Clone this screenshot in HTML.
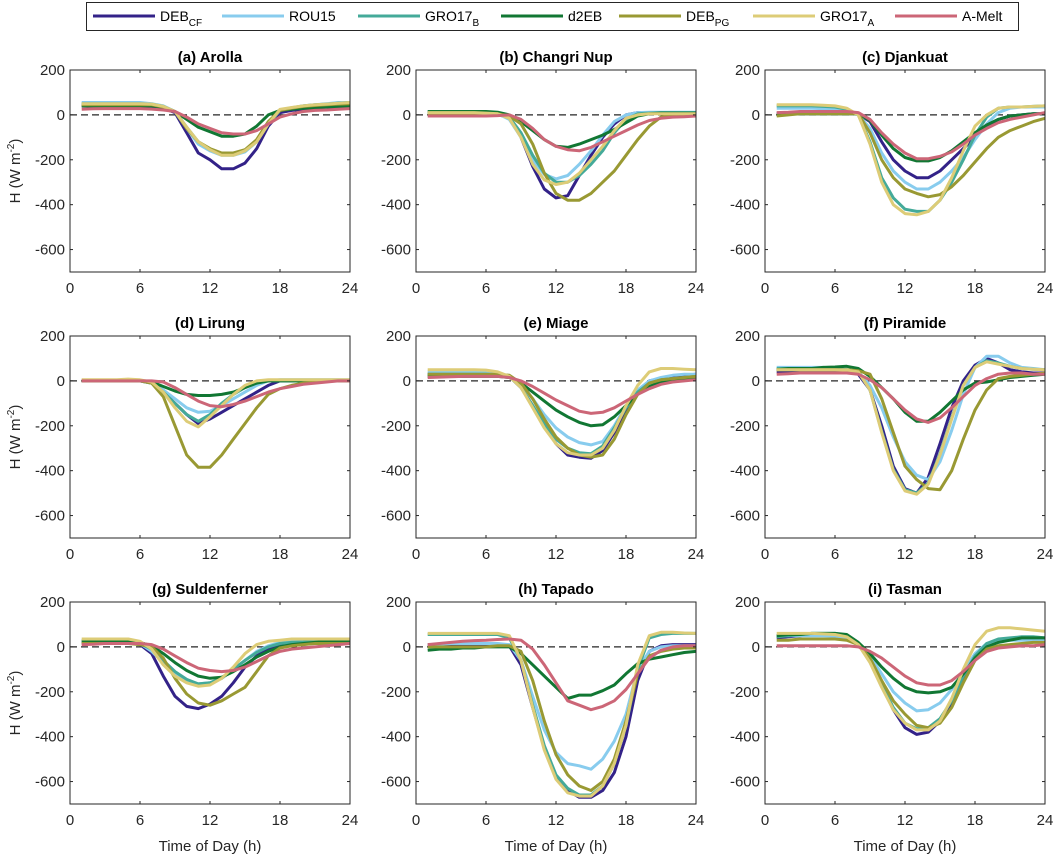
<!DOCTYPE html>
<html><head><meta charset="utf-8">
<style>
body{margin:0;background:#fff;}
svg{display:block;font-family:"Liberation Sans",Arial,sans-serif;}
</style></head>
<body>
<svg id="chart" width="1056" height="856" viewBox="0 0 1056 856" xmlns="http://www.w3.org/2000/svg"></svg>
<script>
const hours = [1,2,3,4,5,6,7,8,9,10,11,12,13,14,15,16,17,18,19,20,21,22,23,24];
const seriesNames = ["DEB_CF","ROU15","GRO17_B","d2EB","DEB_PG","GRO17_A","A-Melt"];
const seriesColors = ["#332288","#88ccee","#44aa99","#117733","#999933","#ddcc77","#cc6677"];
const panelTitles = ["(a) Arolla","(b) Changri Nup","(c) Djankuat","(d) Lirung","(e) Miage","(f) Piramide","(g) Suldenferner","(h) Tapado","(i) Tasman"];
const xTicks = [0,6,12,18,24];
const yTicks = [200,0,-200,-400,-600];

const arollaDEBCF=[40,40,40,40,40,40,38,30,10,-80,-170,-200,-240,-240,-215,-150,-50,10,20,25,30,35,35,35];
const arollaROU15=[55,55,55,55,55,55,50,40,15,-60,-130,-160,-180,-180,-165,-120,-40,20,30,40,45,50,55,55];
const arollaGRO17B=[50,50,50,50,50,50,48,38,15,-55,-120,-155,-175,-178,-160,-118,-40,22,32,40,45,48,52,55];
const arollaD2EB=[40,40,40,40,40,40,40,35,15,-20,-55,-75,-95,-95,-85,-50,0,20,25,30,32,35,38,40];
const arollaDEBPG=[45,45,45,45,45,45,45,35,15,-60,-120,-150,-170,-170,-155,-110,-30,20,30,38,42,45,48,50];
const arollaGRO17A=[50,50,50,50,50,50,48,38,15,-55,-120,-155,-180,-180,-160,-120,-40,25,33,40,45,48,52,55];
const arollaAMelt=[25,27,28,28,28,28,26,22,15,-10,-40,-60,-80,-85,-85,-70,-40,-10,5,15,20,22,25,28];

const changriDEBCF=[5,5,5,5,5,3,0,-10,-100,-230,-330,-370,-360,-270,-180,-100,-40,0,10,10,10,10,10,10];
const changriROU15=[15,15,15,15,12,10,5,-20,-100,-200,-265,-285,-270,-220,-160,-90,-30,0,10,12,12,12,12,12];
const changriGRO17B=[10,10,10,10,10,10,5,-10,-80,-180,-260,-300,-300,-270,-220,-160,-80,-20,5,8,10,10,10,10];
const changriD2EB=[15,15,15,15,15,15,12,0,-30,-70,-110,-140,-145,-130,-110,-90,-65,-35,-5,5,8,8,8,8];
const changriDEBPG=[5,5,5,5,5,5,5,-5,-40,-130,-260,-350,-380,-380,-350,-300,-250,-180,-110,-50,-10,0,0,0];
const changriGRO17A=[10,10,10,10,10,8,5,-15,-100,-220,-290,-310,-300,-260,-200,-140,-70,-15,0,5,5,5,5,5];
const changriAMelt=[-5,-5,-5,-5,-5,-5,-3,0,-20,-60,-110,-140,-155,-160,-145,-120,-95,-70,-45,-25,-15,-10,-8,-5];

const djankuatDEBCF=[5,5,5,5,5,5,5,5,-30,-120,-200,-250,-280,-280,-250,-200,-150,-100,-50,-20,-5,0,5,5];
const djankuatROU15=[30,30,30,30,28,25,15,0,-60,-170,-250,-300,-330,-330,-300,-250,-190,-110,-40,10,30,35,35,35];
const djankuatGRO17B=[40,40,40,40,38,35,25,0,-120,-280,-370,-420,-430,-430,-380,-300,-200,-90,-10,30,35,35,38,40];
const djankuatD2EB=[0,5,5,5,5,5,5,5,-25,-90,-150,-190,-205,-205,-190,-160,-120,-80,-45,-20,-5,0,5,5];
const djankuatDEBPG=[-5,0,5,5,5,5,5,5,-80,-200,-280,-330,-350,-365,-355,-320,-270,-210,-150,-100,-70,-50,-30,-15];
const djankuatGRO17A=[45,45,45,45,43,40,30,0,-130,-300,-400,-440,-445,-430,-380,-280,-160,-50,0,30,35,35,38,40];
const djankuatAMelt=[10,12,15,15,15,15,15,10,-20,-80,-130,-170,-195,-195,-185,-165,-130,-90,-60,-35,-20,-10,0,10];

const lirungDEBCF=[0,0,0,0,0,0,-10,-50,-100,-150,-190,-170,-140,-110,-80,-50,-20,0,0,0,0,0,0,0];
const lirungROU15=[0,0,0,0,0,0,-10,-40,-80,-120,-140,-135,-110,-80,-50,-20,0,5,5,5,5,5,5,5];
const lirungGRO17B=[0,0,0,0,0,0,-10,-50,-100,-150,-180,-150,-100,-60,-30,-5,0,0,0,0,0,0,0,0];
const lirungD2EB=[0,0,0,0,0,0,-5,-25,-45,-60,-65,-65,-60,-50,-30,-10,0,0,0,0,0,0,0,0];
const lirungDEBPG=[0,0,0,0,0,0,-10,-70,-200,-330,-385,-385,-330,-260,-190,-120,-60,-35,-20,-10,-5,0,0,0];
const lirungGRO17A=[5,5,5,5,8,5,-5,-50,-120,-180,-205,-160,-110,-60,-20,0,5,5,5,5,5,5,5,5];
const lirungAMelt=[0,0,0,0,0,0,0,-5,-30,-60,-90,-110,-115,-105,-90,-70,-50,-35,-25,-15,-10,-5,0,0];

const miageDEBCF=[30,30,30,30,30,30,28,20,-30,-110,-200,-280,-330,-340,-345,-310,-230,-130,-50,0,10,20,25,30];
const miageROU15=[40,40,40,40,40,35,30,20,-20,-80,-150,-210,-250,-275,-285,-270,-200,-110,-40,0,15,25,30,30];
const miageGRO17B=[30,30,30,30,30,30,25,20,-30,-110,-190,-260,-300,-320,-325,-290,-210,-120,-50,-10,5,10,15,20];
const miageD2EB=[20,20,20,20,20,20,20,15,-10,-50,-90,-130,-160,-185,-200,-195,-160,-110,-60,-25,-5,5,10,15];
const miageDEBPG=[30,30,30,30,30,30,30,25,-10,-80,-170,-250,-300,-330,-340,-330,-260,-150,-60,-10,5,10,15,20];
const miageGRO17A=[50,50,50,50,50,48,40,20,-30,-120,-210,-280,-320,-330,-330,-300,-220,-110,-20,40,55,55,52,50];
const miageAMelt=[15,17,18,20,20,20,20,15,0,-25,-55,-85,-110,-135,-145,-140,-120,-90,-60,-35,-15,-5,0,5];

const piramideDEBCF=[40,40,40,40,40,40,40,30,-40,-200,-380,-480,-500,-430,-280,-120,0,70,100,80,50,40,35,35];
const piramideROU15=[60,60,60,60,60,55,50,40,-20,-120,-250,-360,-420,-440,-360,-220,-60,60,110,110,80,60,55,50];
const piramideGRO17B=[55,55,55,55,55,52,48,40,-40,-225,-395,-485,-500,-455,-325,-165,-20,60,90,80,65,55,52,50];
const piramideD2EB=[50,55,55,55,60,62,65,55,20,-30,-80,-140,-180,-180,-140,-90,-40,-10,-5,5,15,20,25,30];
const piramideDEBPG=[50,50,50,50,50,50,50,45,30,-80,-230,-380,-440,-480,-485,-400,-260,-130,-40,10,20,25,30,35];
const piramideGRO17A=[50,50,50,50,50,50,48,40,-40,-230,-400,-490,-505,-460,-330,-170,-20,60,85,75,65,55,52,50];
const piramideAMelt=[30,32,35,35,35,35,35,30,5,-30,-80,-130,-170,-185,-165,-120,-70,-20,10,30,35,35,30,30];

const suldenDEBCF=[20,20,20,20,18,10,-30,-130,-220,-265,-275,-255,-220,-160,-90,-40,-10,5,10,15,20,20,20,20];
const suldenROU15=[30,30,30,30,28,15,-20,-70,-120,-150,-165,-160,-140,-100,-60,-20,5,20,25,25,28,30,30,30];
const suldenGRO17B=[25,25,25,25,22,15,-10,-60,-110,-145,-165,-160,-140,-100,-60,-25,0,15,20,22,25,25,25,25];
const suldenD2EB=[25,25,25,25,25,20,5,-30,-70,-105,-130,-140,-135,-110,-80,-45,-20,0,10,15,20,25,25,25];
const suldenDEBPG=[15,15,15,15,15,10,0,-50,-140,-210,-250,-260,-240,-210,-180,-110,-40,-5,5,10,15,15,15,15];
const suldenGRO17A=[35,35,35,35,35,25,-10,-80,-130,-160,-175,-170,-140,-90,-30,10,25,30,35,35,35,35,35,35];
const suldenAMelt=[10,12,15,15,15,15,10,-10,-40,-70,-95,-105,-110,-105,-90,-65,-40,-20,-10,-5,0,5,10,15];

const tapadoDEBCF=[5,5,5,5,5,10,10,5,-80,-270,-450,-580,-640,-670,-670,-640,-560,-400,-150,-20,5,10,10,10];
const tapadoROU15=[10,12,15,15,15,15,15,10,-60,-220,-370,-470,-520,-530,-545,-500,-420,-300,-100,-20,0,5,5,5];
const tapadoGRO17B=[55,55,55,55,55,55,55,40,-60,-260,-440,-570,-630,-660,-660,-620,-520,-350,-100,40,55,60,60,60];
const tapadoD2EB=[-15,-10,-10,-5,-5,0,0,0,-30,-80,-130,-180,-230,-215,-215,-195,-170,-120,-75,-55,-45,-35,-25,-20];
const tapadoDEBPG=[0,0,0,0,0,0,5,5,-20,-150,-330,-480,-570,-620,-640,-600,-500,-330,-120,-40,-20,-10,-5,-5];
const tapadoGRO17A=[60,60,60,60,60,60,60,50,-60,-270,-460,-590,-650,-665,-665,-620,-520,-350,-80,50,65,65,62,60];
const tapadoAMelt=[10,15,20,25,28,30,33,35,30,-10,-80,-160,-240,-260,-280,-265,-240,-190,-120,-50,-15,0,5,5];

const tasmanDEBCF=[40,45,50,55,55,55,45,10,-60,-170,-280,-360,-390,-380,-330,-250,-140,-50,10,30,35,35,35,35];
const tasmanROU15=[50,50,50,50,50,48,40,15,-40,-120,-200,-250,-285,-280,-250,-190,-110,-30,15,25,30,30,30,30];
const tasmanGRO17B=[45,50,55,60,60,60,50,15,-60,-170,-270,-340,-365,-360,-320,-240,-130,-40,15,35,40,45,45,40];
const tasmanD2EB=[50,55,55,60,60,60,55,20,-30,-90,-140,-180,-200,-205,-200,-180,-120,-50,0,20,30,40,40,40];
const tasmanDEBPG=[30,30,35,35,35,35,30,10,-50,-150,-240,-300,-350,-360,-340,-270,-160,-60,-10,5,10,15,20,20];
const tasmanGRO17A=[60,60,60,60,58,55,45,10,-70,-180,-280,-340,-370,-370,-330,-230,-100,10,70,85,85,80,75,70];
const tasmanAMelt=[5,5,5,5,5,5,5,0,-20,-50,-90,-130,-160,-170,-170,-150,-110,-60,-20,-5,0,5,5,10];

const panelData = [
 [arollaDEBCF,arollaROU15,arollaGRO17B,arollaD2EB,arollaDEBPG,arollaGRO17A,arollaAMelt],
 [changriDEBCF,changriROU15,changriGRO17B,changriD2EB,changriDEBPG,changriGRO17A,changriAMelt],
 [djankuatDEBCF,djankuatROU15,djankuatGRO17B,djankuatD2EB,djankuatDEBPG,djankuatGRO17A,djankuatAMelt],
 [lirungDEBCF,lirungROU15,lirungGRO17B,lirungD2EB,lirungDEBPG,lirungGRO17A,lirungAMelt],
 [miageDEBCF,miageROU15,miageGRO17B,miageD2EB,miageDEBPG,miageGRO17A,miageAMelt],
 [piramideDEBCF,piramideROU15,piramideGRO17B,piramideD2EB,piramideDEBPG,piramideGRO17A,piramideAMelt],
 [suldenDEBCF,suldenROU15,suldenGRO17B,suldenD2EB,suldenDEBPG,suldenGRO17A,suldenAMelt],
 [tapadoDEBCF,tapadoROU15,tapadoGRO17B,tapadoD2EB,tapadoDEBPG,tapadoGRO17A,tapadoAMelt],
 [tasmanDEBCF,tasmanROU15,tasmanGRO17B,tasmanD2EB,tasmanDEBPG,tasmanGRO17A,tasmanAMelt]
];

const NS="http://www.w3.org/2000/svg";
const svg=document.getElementById('chart');
function mk(tag,attrs,parent){const e=document.createElementNS(NS,tag);for(const k in attrs)e.setAttribute(k,attrs[k]);(parent||svg).appendChild(e);return e;}

const colX=[70,416,765], rowY=[70,336,602], PW=280, PH=202, YMAX=200, YMIN=-700;

// legend
const lg=mk('g',{});


const lbox=mk('rect',{x:86.5,y:2.5,width:932,height:28,fill:'#fff',stroke:'#262626','stroke-width':1},lg);


const legX=[93,222,358,501,619,753,895];
const legLabels=[["DEB","CF"],["ROU15",""],["GRO17","B"],["d2EB",""],["DEB","PG"],["GRO17","A"],["A-Melt",""]];
for(let i=0;i<7;i++){
  const g=mk('g',{},lg);
  
  
  mk('line',{x1:legX[i],y1:16,x2:legX[i]+62,y2:16,stroke:seriesColors[i],'stroke-width':3},g);
  const t=mk('text',{x:legX[i]+67,y:21,'font-size':14,fill:'#000'},g);
  t.textContent=legLabels[i][0];
  if(legLabels[i][1]){const s=mk('tspan',{'font-size':10,dy:5},t);s.textContent=legLabels[i][1];}
}

for(let p=0;p<9;p++){
  const ox=colX[p%3], oy=rowY[Math.floor(p/3)];
  const xs=h=>ox+h/24*PW;
  const ys=v=>oy+(YMAX-v)/(YMAX-YMIN)*PH;
  const g=mk('g',{});
  
  
  mk('rect',{x:ox,y:oy,width:PW,height:PH,fill:'#fff'},g);
  const ttl=mk('text',{x:ox+PW/2,y:oy-8,'font-size':15,'font-weight':'bold','text-anchor':'middle',fill:'#000'},g);
  
  
  ttl.textContent=panelTitles[p];
  // zero line
  const z=mk('line',{x1:ox,y1:ys(0),x2:ox+PW,y2:ys(0),stroke:'#262626','stroke-width':1.2,'stroke-dasharray':'7,4'},g);
  
  
  for(let s=0;s<7;s++){
    const d=panelData[p][s].map((v,i)=>(i?'L':'M')+xs(hours[i]).toFixed(1)+','+ys(v).toFixed(1)).join(' ');
    const l=mk('path',{d:d,fill:'none',stroke:seriesColors[s],'stroke-width':3,'stroke-linejoin':'round'},g);
    
    
  }
  mk('rect',{x:ox,y:oy,width:PW,height:PH,fill:'none',stroke:'#262626','stroke-width':1},g);
  const xa=mk('g',{},g);
  
  
  xTicks.forEach(t=>{
    mk('line',{x1:xs(t),y1:oy+PH,x2:xs(t),y2:oy+PH-3,stroke:'#262626'},xa);
    mk('line',{x1:xs(t),y1:oy,x2:xs(t),y2:oy+3,stroke:'#262626'},xa);
    const tx=mk('text',{x:xs(t),y:oy+PH+21,'font-size':15,'text-anchor':'middle',fill:'#262626'},xa);
    tx.textContent=t;
  });
  const ya=mk('g',{},g);
  
  
  yTicks.forEach(t=>{
    mk('line',{x1:ox,y1:ys(t),x2:ox+3,y2:ys(t),stroke:'#262626'},ya);
    mk('line',{x1:ox+PW,y1:ys(t),x2:ox+PW-3,y2:ys(t),stroke:'#262626'},ya);
    const tx=mk('text',{x:ox-5,y:ys(t)+5,'font-size':15,'text-anchor':'end',fill:'#262626'},ya);
    tx.textContent=t;
  });
  if(p%3===0){
    const yl=mk('text',{x:0,y:0,'font-size':15,'text-anchor':'middle',fill:'#262626',transform:'translate(20,'+(oy+PH/2)+') rotate(-90)'},g);
    
    
    yl.textContent='H (W m';
    const sp=mk('tspan',{'font-size':10,dy:-6},yl); sp.textContent='-2';
    const sp2=mk('tspan',{dy:6},yl); sp2.textContent=')';
  }
  if(p>=6){
    const xl=mk('text',{x:ox+PW/2,y:oy+PH+47,'font-size':15,'text-anchor':'middle',fill:'#262626'},g);
    
    
    xl.textContent='Time of Day (h)';
  }
}
</script>
</body></html>
